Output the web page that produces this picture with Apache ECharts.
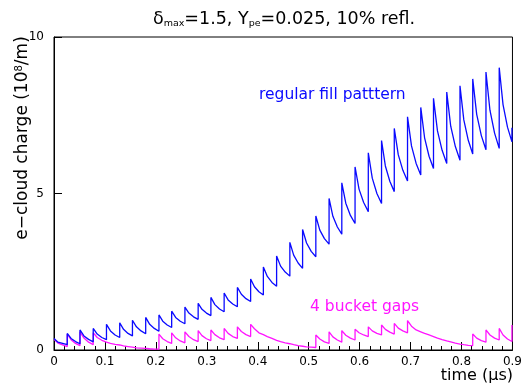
<!DOCTYPE html>
<html>
<head>
<meta charset="utf-8">
<script src="https://cdn.jsdelivr.net/npm/echarts@6/dist/echarts.min.js"></script>
<style>
  html, body { margin: 0; padding: 0; background: #fff; }
  #chart { width: 525px; height: 385px; }
</style>
</head>
<body>
<div id="chart"></div>
<script>
// Bunch-train passage times (µs); both fills share the same slots
const slotTimes = [0.026, 0.051, 0.077, 0.103, 0.129, 0.154, 0.180, 0.206, 0.231, 0.257,
                   0.283, 0.308, 0.334, 0.360, 0.386, 0.411, 0.437, 0.463, 0.488, 0.514,
                   0.540, 0.565, 0.591, 0.617, 0.643, 0.668, 0.694, 0.720, 0.745, 0.771,
                   0.797, 0.822, 0.848, 0.874, 0.899];

// Regular fill pattern: value at t=0 and early decay, then per slot:
// value just before the passage, right after it, ~30% and ~65% into the slot
const regularStart = 0.37;
const regularStartMid = 0.25;
const regularLow  = [0.17, 0.20, 0.26, 0.33, 0.40, 0.45, 0.52, 0.60, 0.72, 0.84,
                     0.98, 1.10, 1.22, 1.38, 1.55, 1.76, 2.04, 2.36, 2.61, 2.98,
                     3.38, 3.70, 4.04, 4.42, 4.68, 5.06, 5.40, 5.59, 5.80, 5.96,
                     6.06, 6.26, 6.40, 6.44, 6.65];
const regularPeak = [0.53, 0.64, 0.69, 0.82, 0.87, 0.95, 1.04, 1.12, 1.24, 1.37,
                     1.49, 1.68, 1.82, 2.00, 2.27, 2.65, 3.00, 3.44, 3.85, 4.28,
                     4.84, 5.34, 5.85, 6.30, 6.69, 7.08, 7.45, 7.75, 8.04, 8.24,
                     8.44, 8.66, 8.88, 9.02, 7.10];
const regularMid  = [0.37, 0.45, 0.51, 0.61, 0.66, 0.74, 0.82, 0.92, 1.04, 1.18,
                     1.30, 1.45, 1.60, 1.78, 2.02, 2.35, 2.68, 3.03, 3.42, 3.83,
                     4.27, 4.69, 5.14, 5.49, 5.88, 6.24, 6.52, 6.78, 7.00, 7.15,
                     7.35, 7.53, 7.66, 7.84, null];
const regularLate = [0.27, 0.34, 0.40, 0.48, 0.53, 0.61, 0.69, 0.80, 0.92, 1.06,
                     1.18, 1.31, 1.47, 1.64, 1.86, 2.16, 2.49, 2.78, 3.15, 3.56,
                     3.93, 4.30, 4.71, 5.00, 5.39, 5.74, 5.96, 6.19, 6.38, 6.50,
                     6.70, 6.85, 6.93, 7.12, null];

// Fill with 4-bucket gaps: null peak = empty slot (cloud keeps decaying)
const gapsStart = 0.34;
const gapsStartMid = 0.22;
const gapsLow  = [0.11, 0.14, 0.17, 0.25, 0.16, 0.09, 0.05, 0.03, 0.21, 0.23,
                  0.27, 0.30, 0.33, 0.37, 0.43, 0.49, 0.31, 0.20, 0.12, 0.08,
                  0.21, 0.25, 0.32, 0.43, 0.48, 0.51, 0.55, 0.58, 0.43, 0.29,
                  0.19, 0.14, 0.25, 0.32, 0.27];
const gapsPeak = [0.51, 0.58, 0.55, null, null, null, null, 0.51, 0.55, 0.58,
                  0.62, 0.64, 0.69, 0.74, 0.82, null, null, null, null, 0.48,
                  0.58, 0.62, 0.66, 0.74, 0.80, 0.85, 0.94, null, null, null,
                  null, 0.51, 0.64, 0.69, 0.80];
const gapsMid  = [0.33, 0.38, 0.40, 0.21, 0.13, 0.07, 0.04, 0.36, 0.39, 0.43,
                  0.46, 0.49, 0.53, 0.59, 0.68, 0.43, 0.27, 0.17, 0.10, 0.35,
                  0.42, 0.47, 0.55, 0.61, 0.66, 0.70, 0.76, 0.53, 0.38, 0.26,
                  0.17, 0.38, 0.48, 0.48, null];
const gapsLate = [0.21, 0.25, 0.31, 0.18, 0.11, 0.06, 0.03, 0.27, 0.29, 0.33,
                  0.36, 0.39, 0.43, 0.49, 0.55, 0.37, 0.23, 0.14, 0.09, 0.26,
                  0.32, 0.38, 0.48, 0.53, 0.57, 0.61, 0.64, 0.48, 0.33, 0.22,
                  0.15, 0.30, 0.38, 0.35, null];

// Axis ticks
const xMin = 0, xMax = 0.9, xStep = 0.1;
const yMin = 0, yMax = 10, yStep = 5;

// Turn per-slot readings into a step-and-decay polyline
function buildTrace(start, startMid, low, peak, mid, late) {
  const pts = [[0, start], [0.3 * slotTimes[0], startMid]];
  for (let i = 0; i < slotTimes.length; i++) {
    const t = slotTimes[i];
    const tNext = i + 1 < slotTimes.length ? slotTimes[i + 1] : xMax;
    pts.push([t, low[i]]);
    if (peak[i] != null) pts.push([t, peak[i]]);
    if (mid[i] != null) pts.push([t + 0.3 * (tNext - t), mid[i]]);
    if (late[i] != null) pts.push([t + 0.65 * (tNext - t), late[i]]);
  }
  return pts;
}

const FONT = 'DejaVu Sans';
const BLUE = '#0a0aff';
const MAGENTA = '#ff14ff';
const chart = echarts.init(document.getElementById('chart'), null, { renderer: 'canvas' });

chart.setOption({
  animation: false,
  backgroundColor: '#ffffff',
  grid: {
    left: 54, right: 12, top: 37, bottom: 35,
    show: true, borderColor: '#000', borderWidth: 1, backgroundColor: 'transparent'
  },
  xAxis: {
    type: 'value', min: xMin, max: xMax, interval: xStep,
    axisLine: { show: true, onZero: false, lineStyle: { color: '#000', width: 1 } },
    axisTick: { show: true, inside: true, length: 8, lineStyle: { color: '#000' } },
    minorTick: { show: true, splitNumber: 5, length: 4, lineStyle: { color: '#000' } },
    splitLine: { show: false },
    axisLabel: { color: '#000', fontFamily: FONT, fontSize: 12, margin: 6 }
  },
  yAxis: {
    type: 'value', min: yMin, max: yMax, interval: yStep,
    axisLine: { show: true, onZero: false, lineStyle: { color: '#000', width: 1 } },
    axisTick: { show: true, inside: true, length: 8, lineStyle: { color: '#000' } },
    splitLine: { show: false },
    axisLabel: { color: '#000', fontFamily: FONT, fontSize: 12, margin: 10 }
  },
  series: [
    {
      name: 'regular fill patttern', type: 'line', showSymbol: false, clip: true,
      data: buildTrace(regularStart, regularStartMid, regularLow, regularPeak, regularMid, regularLate),
      lineStyle: { color: BLUE, width: 1.3 }, z: 3
    },
    {
      name: '4 bucket gaps', type: 'line', showSymbol: false, clip: true,
      data: buildTrace(gapsStart, gapsStartMid, gapsLow, gapsPeak, gapsMid, gapsLate),
      lineStyle: { color: MAGENTA, width: 1.3 }, z: 2
    }
  ],
  graphic: [
    {
      type: 'text', x: 284, y: 20,
      style: {
        text: '{n|δ}{s|max}{n|=1.5, Y}{s|pe}{n|=0.025, 10% refl.}',
        align: 'center', verticalAlign: 'middle',
        rich: {
          n: { fontFamily: FONT, fontSize: 17.5, lineHeight: 17, verticalAlign: 'bottom', fill: '#000' },
          s: { fontFamily: FONT, fontSize: 9.5, lineHeight: 9, verticalAlign: 'bottom', fill: '#000' }
        }
      }
    },
    {
      type: 'text', x: 23, y: 138, rotation: Math.PI / 2,
      style: {
        text: '{n|e−cloud charge (10}{p|8}{n|/m)}',
        align: 'center', verticalAlign: 'middle',
        rich: {
          n: { fontFamily: FONT, fontSize: 17, lineHeight: 17, verticalAlign: 'bottom', fill: '#000' },
          p: { fontFamily: FONT, fontSize: 10, lineHeight: 17, verticalAlign: 'top', fill: '#000' }
        }
      }
    },
    {
      type: 'text', x: 513, y: 376,
      style: { text: 'time (µs)', fontFamily: FONT, fontSize: 16, fill: '#000', align: 'right', verticalAlign: 'middle' }
    },
    {
      type: 'text', x: 259, y: 95,
      style: { text: 'regular fill patttern', fontFamily: FONT, fontSize: 15.5, fill: BLUE, align: 'left', verticalAlign: 'middle' }
    },
    {
      type: 'text', x: 310, y: 307,
      style: { text: '4 bucket gaps', fontFamily: FONT, fontSize: 15.5, fill: MAGENTA, align: 'left', verticalAlign: 'middle' }
    }
  ]
});
</script>
</body>
</html>
